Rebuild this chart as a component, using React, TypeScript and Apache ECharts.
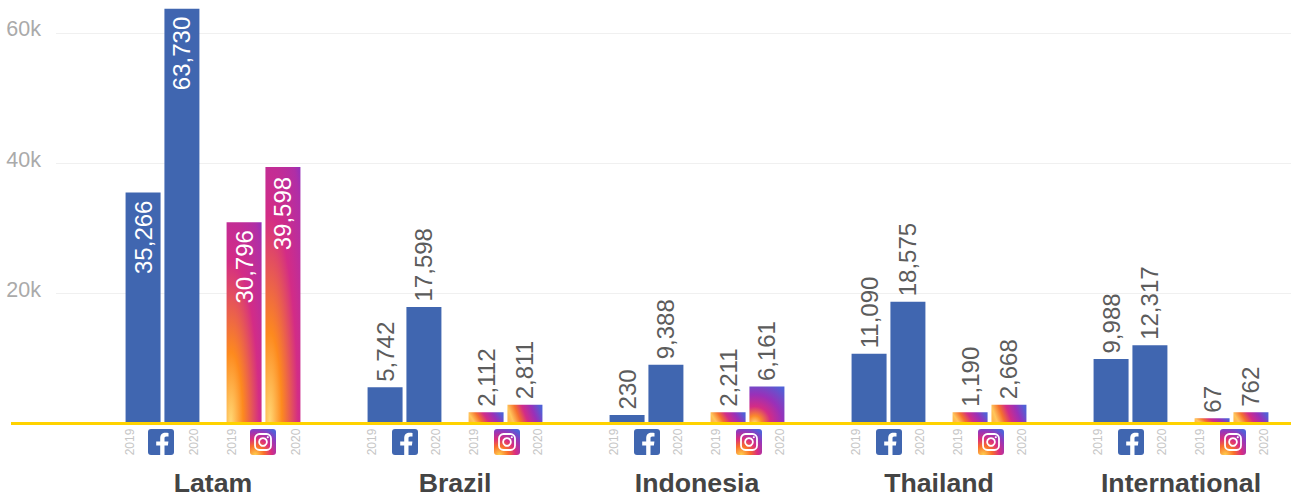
import React, { useEffect, useRef } from "react";
import * as echarts from "echarts";

const categories = ["Latam", "Brazil", "Indonesia", "Thailand", "International"];
const yearLabels = ["2019", "2020"];

// Printed values
const facebook2019 = [35266, 5742, 230, 11090, 9988];
const facebook2020 = [63730, 17598, 9388, 18575, 12317];
const instagram2019 = [30796, 2112, 2211, 1190, 67];
const instagram2020 = [39598, 2811, 6161, 2668, 762];

// Bar heights (small bars are not drawn to scale there)
const facebook2019Heights = [35450, 5500, 1250, 10650, 9850];
const facebook2020Heights = [63730, 17850, 8950, 18650, 11950];
const instagram2019Heights = [30900, 1650, 1650, 1650, 750];
const instagram2020Heights = [39400, 2800, 5600, 2800, 1650];

const yTicks = [0, 20000, 40000, 60000];
const yMax = 65000;

const BLUE = "#4066B0";
const tallStops = [
  { offset: 0, color: "#FFD976" },
  { offset: 0.26, color: "#FD8A1E" },
  { offset: 0.6, color: "#D32C86" },
  { offset: 0.9, color: "#B02EA6" },
  { offset: 1, color: "#8E32BE" },
];
const midStops = [
  { offset: 0, color: "#FFD976" },
  { offset: 0.15, color: "#FB8A2A" },
  { offset: 0.35, color: "#D32C86" },
  { offset: 0.6, color: "#9A30B8" },
  { offset: 0.95, color: "#5060D6" },
];
const flatStops = [
  { offset: 0, color: "#FFB84E" },
  { offset: 0.1, color: "#FFC65C" },
  { offset: 0.3, color: "#F5702E" },
  { offset: 0.5, color: "#D32C86" },
  { offset: 0.75, color: "#9A30B8" },
  { offset: 1, color: "#5060D6" },
];
function gradient(height: number) {
  if (height > 20000) return { type: "radial", x: 0.12, y: 1, r: 1.35, colorStops: tallStops };
  if (height > 4000) return { type: "radial", x: 0.15, y: 1, r: 1.3, colorStops: midStops };
  return { type: "linear", x: 0, y: 0.6, x2: 1, y2: 0.4, colorStops: flatStops };
}

const fPath =
  "M12.2 26V16.4H8.2v-4h4V9.2c0-3.6 2.2-5.4 5.3-5.4 1.4 0 2.6.1 3 .2v3.6h-2.1c-1.6 0-1.9.8-1.9 1.9v2.9h3.9l-.5 4h-3.4V26z";

function yearText(x: number, y: number, text: string) {
  return {
    type: "text",
    x,
    y,
    rotation: Math.PI / 2,
    style: {
      text,
      fill: "#C6C6C6",
      font: "12px 'Liberation Sans'",
      align: "center",
      verticalAlign: "middle",
    },
  };
}

function renderDecor(_: any, api: any) {
  const idx = api.value(0);
  const [cx] = api.coord([idx, 0]);
  const iconY = 429;
  const textY = 442;
  const nudge = idx === 0 ? -2 : 0;
  return {
    type: "group",
    children: [
      yearText(cx - 83, textY, yearLabels[0]),
      yearText(cx - 19.5, textY, yearLabels[1]),
      yearText(cx + 19, textY, yearLabels[0]),
      yearText(cx + 83, textY, yearLabels[1]),
      {
        type: "group",
        x: Math.round(cx - 63.5 + nudge),
        y: iconY,
        children: [
          { type: "rect", shape: { x: 0, y: 0, width: 26, height: 26, r: 3 }, style: { fill: BLUE } },
          { type: "path", shape: { pathData: fPath }, style: { fill: "#FFFFFF" } },
        ],
      },
      {
        type: "group",
        x: Math.round(cx + 39 + nudge),
        y: iconY,
        children: [
          {
            type: "rect",
            shape: { x: 0, y: 0, width: 26, height: 26, r: 3 },
            style: {
              fill: {
                type: "radial",
                x: 0.2,
                y: 1,
                r: 1.15,
                colorStops: [
                  { offset: 0, color: "#FFD24F" },
                  { offset: 0.3, color: "#F9702A" },
                  { offset: 0.55, color: "#D92C80" },
                  { offset: 0.8, color: "#9238BC" },
                  { offset: 1, color: "#5161D8" },
                ],
              },
            },
          },
          {
            type: "rect",
            shape: { x: 5, y: 5, width: 16, height: 16, r: 4.5 },
            style: { fill: "none", stroke: "#FFFFFF", lineWidth: 1.8 },
          },
          { type: "circle", shape: { cx: 13, cy: 13, r: 3.9 }, style: { fill: "none", stroke: "#FFFFFF", lineWidth: 1.8 } },
          { type: "circle", shape: { cx: 17.8, cy: 8.2, r: 1.05 }, style: { fill: "#FFFFFF" } },
        ],
      },
    ],
  };
}

function barData(values: number[], heights: number[], style: (h: number) => any, insideDistance: number) {
  return heights.map((h, i) => {
    const inside = i === 0;
    return {
      value: h,
      itemStyle: style(h),
      label: {
        show: true,
        formatter: values[i].toLocaleString("en-US"),
        rotate: 90,
        position: inside ? "insideTop" : "top",
        align: inside ? "right" : "left",
        verticalAlign: "middle",
        distance: inside ? insideDistance : 5.5,
        color: inside ? "#FFFFFF" : "#5C5C5C",
        fontSize: 24,
        fontFamily: "'Liberation Sans'",
      },
    };
  });
}

const G = 0.11;

function barSeries(values: number[], heights: number[], style: (h: number) => any, insideDistance = 8) {
  return {
    type: "bar",
    xAxisIndex: 0,
    yAxisIndex: 0,
    barWidth: 35,
    barGap: `${G * 100}%`,
    silent: true,
    data: barData(values, heights, style, insideDistance),
  };
}

export default function App() {
  const ref = useRef<HTMLDivElement>(null);
  useEffect(() => {
    document.body.style.margin = "0";
    const chart = echarts.init(ref.current!, undefined, { renderer: "svg" });
    const blue = () => ({ color: BLUE });
    const ig = (h: number) => ({ color: gradient(h) });
    chart.setOption({
      animation: false,
      backgroundColor: "#FFFFFF",
      grid: [
        { left: 92, top: 0.5, width: 1210, height: 422.5, outerBoundsMode: "none" },
        { left: 56, top: 0.5, width: 1235, height: 422.5, outerBoundsMode: "none" },
      ],
      xAxis: [
        {
          gridIndex: 0,
          type: "category",
          data: categories,
          axisLine: { show: false },
          axisTick: { show: false },
          axisLabel: {
            interval: 0,
            margin: 46,
            color: "#444444",
            fontSize: 26.7,
            fontWeight: "bold",
            fontFamily: "'Liberation Sans'",
          },
        },
        { gridIndex: 1, type: "value", min: 0, max: 1, show: false },
      ],
      yAxis: [
        { gridIndex: 0, type: "value", min: 0, max: yMax, show: false },
        {
          gridIndex: 1,
          type: "value",
          min: 0,
          max: yMax,
          interval: yTicks[1],
          axisLine: { show: false },
          axisTick: { show: false },
          splitLine: { show: true, showMaxLine: false, lineStyle: { color: "#F0F0F0", width: 1 } },
          axisLabel: {
            margin: 15,
            color: "#AAAAAA",
            fontSize: 21.5,
            fontFamily: "'Liberation Sans'",
            padding: [0, 0, 6, 0],
            formatter: (v: number) =>
              v === yTicks[3] ? `{top|${v / 1000}k}` : v > 0 && yTicks.includes(v) ? `${v / 1000}k` : "",
            rich: {
              top: { color: "#AAAAAA", fontSize: 21.5, fontFamily: "'Liberation Sans'", padding: [0, 0, 2, 0] },
            },
          },
        },
      ],
      series: [
        barSeries(facebook2019, facebook2019Heights, blue),
        barSeries(facebook2020, facebook2020Heights, blue),
        {
          type: "bar",
          xAxisIndex: 0,
          yAxisIndex: 0,
          barWidth: 21,
          barGap: `${G * 100}%`,
          silent: true,
          itemStyle: { opacity: 0 },
          data: categories.map(() => 0),
        },
        barSeries(instagram2019, instagram2019Heights, ig),
        barSeries(instagram2020, instagram2020Heights, ig, 10),
        {
          type: "custom",
          xAxisIndex: 0,
          yAxisIndex: 0,
          silent: true,
          clip: false,
          renderItem: renderDecor,
          encode: { x: 0, y: 1 },
          data: categories.map((_, i) => [i, 0]),
        },
      ],
      graphic: [
        {
          type: "rect",
          z: 50,
          shape: { x: 11, y: 422, width: 1280, height: 3 },
          style: { fill: "#FFD200" },
          silent: true,
        },
      ],
    });
    return () => chart.dispose();
  }, []);
  return <div ref={ref} style={{ position: "absolute", left: 0, top: 0, width: 1297, height: 493 }} />;
}
